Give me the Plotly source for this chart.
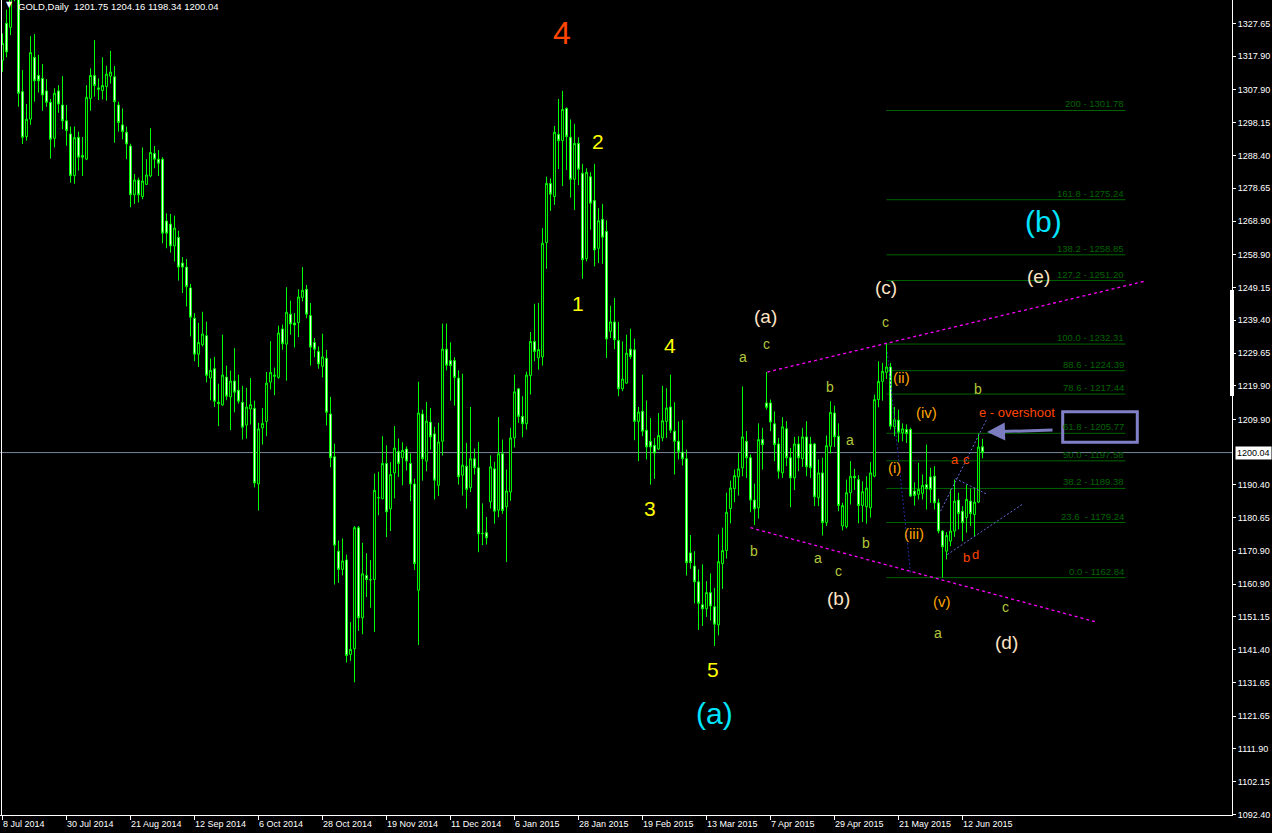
import plotly.graph_objects as go

# ---------------- data ----------------
opens = [1316.7, 1327.7, 1326.5, 1338.0, 1337.0, 1307.4, 1294.0, 1299.2, 1317.6, 1312.2,
         1311.3, 1307.6, 1304.2, 1293.5, 1307.6, 1303.4, 1298.7, 1294.8, 1282.4, 1293.8,
         1288.4, 1287.3, 1305.3, 1312.2, 1308.5, 1307.7, 1308.9, 1312.0, 1311.8, 1303.4,
         1297.5, 1295.3, 1291.2, 1276.7, 1281.1, 1276.2, 1279.8, 1282.3, 1289.0, 1287.3,
         1287.3, 1268.9, 1268.0, 1261.5, 1264.0, 1256.4, 1255.2, 1249.0, 1240.0, 1229.3,
         1232.1, 1234.8, 1222.2, 1225.0, 1215.0, 1214.2, 1222.5, 1216.6, 1221.3, 1218.6,
         1215.0, 1208.2, 1213.0, 1213.2, 1190.7, 1207.4, 1209.3, 1221.0, 1222.7, 1222.4,
         1236.8, 1232.3, 1241.2, 1238.6, 1238.7, 1246.2, 1248.6, 1240.8, 1232.8, 1230.1,
         1225.7, 1228.1, 1211.5, 1198.8, 1170.7, 1165.3, 1168.1, 1140.0, 1141.7, 1177.7,
         1150.9, 1163.5, 1162.2, 1162.3, 1186.6, 1186.3, 1196.8, 1183.3, 1194.0, 1200.4,
         1198.5, 1201.1, 1196.8, 1190.7, 1159.1, 1211.5, 1197.5, 1209.1, 1205.6, 1190.3,
         1203.4, 1230.8, 1227.4, 1227.4, 1222.2, 1193.3, 1196.0, 1189.6, 1198.2, 1195.5,
         1175.9, 1176.2, 1185.4, 1195.2, 1182.9, 1199.7, 1183.9, 1188.3, 1204.4, 1219.0,
         1210.8, 1208.6, 1222.9, 1233.1, 1228.2, 1228.5, 1262.5, 1280.1, 1276.2, 1294.7,
         1292.8, 1302.4, 1293.8, 1281.3, 1292.0, 1283.1, 1257.7, 1282.1, 1275.0, 1260.8,
         1269.4, 1265.8, 1236.1, 1238.9, 1233.4, 1219.0, 1220.7, 1230.8, 1230.6, 1209.3,
         1212.3, 1206.7, 1203.4, 1202.2, 1201.1, 1204.4, 1209.3, 1213.6, 1206.4, 1203.4,
         1200.2, 1198.2, 1170.2, 1166.3, 1161.6, 1154.8, 1153.6, 1158.4, 1154.2, 1148.8,
         1167.0, 1170.9, 1183.4, 1189.3, 1192.8, 1195.5, 1203.4, 1198.5, 1185.9, 1183.6,
         1203.9, 1214.8, 1214.8, 1208.6, 1202.6, 1194.0, 1207.1, 1198.5, 1192.5, 1202.6,
         1198.2, 1204.7, 1202.6, 1202.6, 1186.6, 1194.0, 1179.2, 1201.9, 1211.8, 1204.9,
         1178.2, 1178.0, 1188.1, 1193.0, 1192.0, 1184.3, 1183.9, 1183.6, 1193.0, 1215.8,
         1221.2, 1223.9, 1225.5, 1207.7, 1209.7, 1205.9, 1206.9, 1206.9, 1188.6, 1187.6,
         1187.9, 1190.5, 1192.8, 1193.0, 1185.1, 1176.7, 1170.7, 1173.7, 1176.7, 1185.9,
         1182.6, 1180.7, 1185.6, 1181.6, 1185.3, 1201.75]
highs = [1324.7, 1331.8, 1345.0, 1345.0, 1340.0, 1313.8, 1303.7, 1323.9, 1324.5, 1318.3,
         1315.6, 1311.1, 1305.2, 1308.4, 1309.3, 1312.0, 1303.4, 1297.0, 1297.0, 1295.5,
         1293.9, 1309.3, 1314.3, 1322.7, 1311.3, 1317.6, 1315.1, 1319.5, 1315.0, 1304.4,
         1302.4, 1297.0, 1291.9, 1282.9, 1281.8, 1290.8, 1287.3, 1296.5, 1291.2, 1290.0,
         1287.9, 1271.2, 1271.0, 1270.5, 1266.0, 1258.2, 1257.6, 1250.2, 1241.5, 1238.6,
         1241.9, 1239.0, 1228.0, 1228.5, 1220.5, 1235.1, 1225.9, 1224.4, 1231.1, 1223.2,
         1219.9, 1219.3, 1222.2, 1215.5, 1208.9, 1213.3, 1224.0, 1233.2, 1225.3, 1237.8,
         1238.1, 1249.2, 1245.2, 1241.5, 1248.6, 1255.2, 1249.9, 1244.5, 1234.1, 1231.6,
         1235.4, 1230.6, 1216.6, 1202.7, 1173.9, 1174.5, 1169.7, 1149.6, 1178.2, 1178.2,
         1173.2, 1170.1, 1168.0, 1193.8, 1194.3, 1204.9, 1202.2, 1197.2, 1207.9, 1204.2,
         1203.1, 1201.9, 1199.8, 1192.3, 1221.1, 1212.8, 1215.1, 1213.3, 1207.7, 1208.9,
         1238.4, 1238.4, 1232.8, 1228.4, 1224.5, 1223.5, 1202.9, 1213.6, 1201.2, 1203.2,
         1184.9, 1180.9, 1199.2, 1197.3, 1210.6, 1203.9, 1195.0, 1207.4, 1223.2, 1219.2,
         1216.8, 1224.1, 1235.9, 1244.3, 1244.5, 1266.8, 1282.1, 1281.6, 1297.2, 1305.2,
         1307.6, 1302.7, 1299.1, 1297.8, 1293.8, 1285.9, 1284.6, 1283.4, 1285.9, 1272.7,
         1274.0, 1269.1, 1243.7, 1246.0, 1238.9, 1233.1, 1235.1, 1236.9, 1233.9, 1213.6,
         1223.2, 1215.5, 1210.3, 1204.4, 1211.8, 1219.9, 1219.2, 1223.2, 1215.0, 1209.3,
         1209.7, 1200.9, 1175.5, 1170.7, 1165.3, 1166.8, 1161.8, 1164.1, 1159.8, 1175.7,
         1177.7, 1188.1, 1191.7, 1195.0, 1199.9, 1219.7, 1206.4, 1199.5, 1190.8, 1208.7,
         1207.4, 1224.0, 1215.8, 1212.3, 1204.4, 1210.6, 1209.4, 1201.4, 1204.7, 1204.9,
         1207.4, 1209.4, 1204.7, 1202.9, 1198.0, 1198.5, 1205.1, 1215.3, 1214.0, 1208.7,
         1185.1, 1192.0, 1197.5, 1195.2, 1193.3, 1191.5, 1193.0, 1197.2, 1217.3, 1227.2,
         1226.7, 1232.31, 1226.7, 1213.6, 1212.8, 1208.7, 1208.4, 1207.4, 1191.2, 1197.0,
         1193.5, 1202.4, 1195.5, 1196.0, 1186.3, 1177.0, 1176.4, 1189.1, 1192.0, 1188.1,
         1184.1, 1190.5, 1189.3, 1189.6, 1205.7, 1204.16]
lows = [1313.3, 1317.6, 1324.2, 1334.3, 1302.9, 1291.8, 1292.8, 1297.5, 1304.4, 1307.1,
        1301.7, 1302.9, 1287.5, 1290.8, 1301.1, 1296.2, 1291.3, 1280.3, 1280.0, 1283.9,
        1282.3, 1287.0, 1301.7, 1305.9, 1304.9, 1305.1, 1304.7, 1309.8, 1292.2, 1295.5,
        1293.2, 1287.3, 1273.0, 1274.0, 1274.4, 1275.4, 1279.6, 1281.9, 1284.6, 1282.3,
        1262.3, 1260.8, 1259.5, 1256.9, 1251.2, 1247.5, 1243.5, 1234.6, 1227.2, 1225.5,
        1231.6, 1220.9, 1215.6, 1213.6, 1207.9, 1214.0, 1215.6, 1206.7, 1212.0, 1214.6,
        1203.9, 1204.2, 1208.4, 1189.7, 1182.8, 1202.4, 1204.9, 1218.8, 1217.1, 1222.0,
        1230.6, 1221.4, 1235.1, 1231.3, 1234.4, 1245.0, 1240.0, 1225.9, 1228.4, 1225.0,
        1222.4, 1208.1, 1195.7, 1160.8, 1161.3, 1163.5, 1137.6, 1138.1, 1131.7, 1147.0,
        1146.0, 1157.1, 1153.9, 1146.7, 1181.4, 1186.2, 1174.9, 1176.7, 1186.4, 1192.8,
        1190.3, 1194.7, 1185.6, 1165.1, 1142.8, 1191.7, 1194.5, 1200.9, 1186.1, 1187.1,
        1199.2, 1224.5, 1215.5, 1214.0, 1190.5, 1187.3, 1183.4, 1188.3, 1193.5, 1170.4,
        1172.5, 1172.7, 1183.4, 1178.9, 1180.8, 1181.8, 1167.5, 1185.7, 1201.6, 1208.9,
        1204.6, 1206.9, 1217.3, 1227.2, 1224.7, 1225.9, 1254.7, 1271.9, 1273.7, 1284.4,
        1279.3, 1284.1, 1275.9, 1272.2, 1279.6, 1251.7, 1256.9, 1266.3, 1255.4, 1256.4,
        1256.2, 1228.2, 1234.1, 1230.8, 1216.8, 1218.3, 1220.5, 1227.9, 1203.7, 1197.5,
        1204.9, 1198.0, 1190.5, 1192.2, 1200.8, 1203.4, 1204.4, 1205.9, 1193.5, 1198.0,
        1196.2, 1163.5, 1165.5, 1155.2, 1147.3, 1148.5, 1151.2, 1150.1, 1142.5, 1145.7,
        1159.5, 1168.5, 1179.0, 1185.3, 1187.3, 1193.0, 1192.5, 1182.3, 1178.5, 1180.4,
        1195.0, 1212.8, 1206.4, 1197.5, 1192.3, 1192.5, 1196.0, 1183.8, 1188.9, 1194.5,
        1195.8, 1193.0, 1192.5, 1184.1, 1184.1, 1175.4, 1178.2, 1199.8, 1201.7, 1182.6,
        1176.9, 1177.5, 1184.6, 1188.9, 1179.0, 1179.4, 1178.9, 1180.7, 1192.7, 1213.5,
        1215.5, 1221.9, 1206.9, 1204.9, 1203.1, 1203.4, 1202.9, 1186.9, 1184.3, 1186.1,
        1186.1, 1183.1, 1185.1, 1183.1, 1176.0, 1162.84, 1168.3, 1172.2, 1175.0, 1177.2,
        1173.7, 1176.2, 1178.2, 1175.2, 1185.0, 1198.34]
closes = [1321.7, 1319.2, 1338.0, 1337.0, 1306.9, 1293.8, 1299.2, 1319.0, 1310.6, 1310.6,
          1306.4, 1304.2, 1293.2, 1306.9, 1303.7, 1298.7, 1295.8, 1282.4, 1293.7, 1287.9,
          1287.9, 1305.7, 1312.2, 1309.2, 1308.1, 1309.2, 1312.6, 1313.2, 1304.4, 1298.2,
          1295.5, 1291.8, 1276.7, 1281.1, 1276.7, 1280.8, 1282.6, 1289.3, 1287.3, 1286.1,
          1265.3, 1265.3, 1261.5, 1266.8, 1255.2, 1255.2, 1249.4, 1240.3, 1229.3, 1232.8,
          1235.3, 1223.0, 1224.5, 1215.3, 1214.6, 1223.1, 1216.8, 1221.3, 1218.0, 1215.3,
          1207.6, 1213.6, 1214.3, 1191.0, 1207.1, 1208.7, 1220.7, 1223.9, 1223.1, 1235.6,
          1232.4, 1241.8, 1238.3, 1238.0, 1246.3, 1248.3, 1241.2, 1231.4, 1230.8, 1226.4,
          1228.5, 1212.0, 1198.5, 1172.5, 1165.3, 1167.8, 1139.7, 1141.5, 1177.7, 1150.9,
          1164.0, 1162.3, 1162.2, 1188.8, 1186.6, 1196.8, 1182.4, 1193.5, 1201.4, 1196.8,
          1200.7, 1197.5, 1190.7, 1167.0, 1211.8, 1198.2, 1209.4, 1204.7, 1191.8, 1203.2,
          1230.8, 1226.0, 1225.9, 1222.4, 1192.8, 1196.3, 1189.1, 1198.2, 1195.5, 1175.9,
          1176.0, 1174.7, 1195.8, 1182.6, 1199.7, 1182.8, 1188.6, 1204.4, 1218.1, 1210.8,
          1208.6, 1223.1, 1233.1, 1230.1, 1230.7, 1262.3, 1280.1, 1276.9, 1295.3, 1292.8,
          1302.1, 1294.0, 1281.3, 1292.0, 1284.3, 1257.4, 1283.4, 1274.2, 1260.3, 1269.0,
          1264.1, 1233.8, 1238.9, 1233.6, 1219.0, 1221.9, 1229.6, 1228.6, 1209.3, 1212.1,
          1206.4, 1201.7, 1201.7, 1199.9, 1205.1, 1209.5, 1213.3, 1206.7, 1203.4, 1200.4,
          1198.2, 1167.3, 1167.3, 1161.6, 1155.2, 1153.6, 1158.4, 1154.4, 1149.0, 1167.6,
          1170.9, 1182.3, 1189.5, 1193.2, 1195.2, 1204.7, 1198.5, 1185.9, 1183.3, 1203.9,
          1202.4, 1213.5, 1209.1, 1202.4, 1194.5, 1207.7, 1198.5, 1192.5, 1202.6, 1198.5,
          1204.7, 1195.8, 1195.5, 1186.9, 1194.0, 1179.2, 1202.1, 1212.0, 1204.7, 1184.3,
          1184.3, 1188.1, 1193.0, 1192.5, 1184.3, 1188.4, 1189.5, 1194.0, 1215.8, 1221.2,
          1224.2, 1225.5, 1207.9, 1209.8, 1206.1, 1207.1, 1205.7, 1187.1, 1187.3, 1189.1,
          1190.3, 1189.3, 1189.1, 1185.1, 1176.7, 1172.0, 1175.4, 1176.7, 1185.6, 1181.9,
          1179.2, 1186.1, 1181.9, 1185.3, 1201.7, 1200.04]

date_tick_bars = [0, 16, 32, 48, 64, 80, 96, 112, 128, 144, 160, 176, 192, 208, 224, 240]
date_tick_labels = ["8 Jul 2014", "30 Jul 2014", "21 Aug 2014", "12 Sep 2014", "6 Oct 2014",
                    "28 Oct 2014", "19 Nov 2014", "11 Dec 2014", "6 Jan 2015", "28 Jan 2015",
                    "19 Feb 2015", "13 Mar 2015", "7 Apr 2015", "29 Apr 2015", "21 May 2015",
                    "12 Jun 2015"]
price_ticks = [1327.65, 1317.90, 1307.90, 1298.15, 1288.40, 1278.65, 1268.90, 1258.90,
               1249.15, 1239.40, 1229.65, 1219.90, 1209.90, 1190.40, 1180.65, 1170.90,
               1160.90, 1151.15, 1141.40, 1131.65, 1121.65, 1111.90, 1102.15, 1092.40]
last_price = 1200.04
header_values = [1201.75, 1204.16, 1198.34, 1200.04]

fib_levels = [200.0, 161.8, 138.2, 127.2, 100.0, 88.6, 78.6, 61.8, 50.0, 38.2, 23.6, 0.0]
fib_prices = [1301.78, 1275.24, 1258.85, 1251.20, 1232.31, 1224.39, 1217.44, 1205.77,
              1197.58, 1189.38, 1179.24, 1162.84]
fib_bar_start, fib_bar_end = 221, 280.75

# trend lines: (bar, price) anchor pairs
magenta_lines = [((191.2, 1224.0), (285.9, 1251.1)), ((187.0, 1177.7), (273.25, 1149.7))]
navy_lines = [((221.2, 1230.0), (227.0, 1164.3))]
slate_lines = [((234.5, 1182.6), (246.2, 1210.3)), ((238.25, 1192.3), (246.2, 1187.6)),
               ((236.2, 1169.7), (254.9, 1184.6))]

# ---------------- layout constants ----------------
W, H = 1272, 833
PW, PH = 1232, 815            # plot area size in px
X_RANGE = [-0.625, 307.375]   # bar centres fall on pixel centres
Y_RANGE = [1092.25, 1334.64]
FONT = "Liberation Sans, Arial, sans-serif"

RED = "#FF4500"; YEL = "#FFFF00"; CYAN = "#00E5FF"; BEIGE = "#FFE4C4"
YG = "#B4C83C"; ORG = "#FFA500"; FIBG = "#006400"


def px(x, y):
    return x / PW, 1 - y / PH


idx = list(range(len(opens)))

fig = go.Figure()
fig.add_trace(go.Candlestick(
    x=idx, open=opens, high=highs, low=lows, close=closes,
    increasing=dict(line=dict(color="#00FF00", width=1), fillcolor="#000000"),
    decreasing=dict(line=dict(color="#00FF00", width=1), fillcolor="#FFFFFF"),
    whiskerwidth=0, showlegend=False, hoverinfo="skip"))

shapes = []
shapes.append(dict(type="line", xref="paper", yref="y", x0=0, x1=1, y0=last_price, y1=last_price,
                   line=dict(color="#778899", width=1), layer="below"))
shapes.append(dict(type="line", xref="paper", yref="paper", x0=px(1.5, 0)[0], x1=px(1.5, 0)[0],
                   y0=0, y1=1, line=dict(color="#FFFFFF", width=1)))
for p in fib_prices:
    shapes.append(dict(type="line", xref="x", yref="y", x0=fib_bar_start, x1=fib_bar_end,
                       y0=p, y1=p, line=dict(color=FIBG, width=1), layer="below"))
for (a, b) in magenta_lines:
    shapes.append(dict(type="line", xref="x", yref="y", x0=a[0], y0=a[1], x1=b[0], y1=b[1],
                       line=dict(color="#FF00FF", width=1.3, dash="3px,3px")))
for (a, b) in navy_lines:
    shapes.append(dict(type="line", xref="x", yref="y", x0=a[0], y0=a[1], x1=b[0], y1=b[1],
                       line=dict(color="#28289A", width=1, dash="2px,2px")))
for (a, b) in slate_lines:
    shapes.append(dict(type="line", xref="x", yref="y", x0=a[0], y0=a[1], x1=b[0], y1=b[1],
                       line=dict(color="#6A6AD8", width=1, dash="2px,2px")))
x0, y0 = px(1062.7, 411.7); x1, y1 = px(1137.3, 442.3)
shapes.append(dict(type="rect", xref="paper", yref="paper", x0=x0, y0=y0, x1=x1, y1=y1,
                   line=dict(color="#8080C8", width=3)))
shapes.append(dict(type="rect", xref="paper", yref="paper", x0=px(1230, 0)[0], x1=px(1234, 0)[0],
                   y0=px(0, 396)[1], y1=px(0, 290)[1], fillcolor="#FFFFFF", line=dict(width=0)))

ann = []
for b, t in zip(date_tick_bars, date_tick_labels):
    ann.append(dict(x=b, y=0, xref="x", yref="paper", text=t, showarrow=False,
                    xanchor="left", yanchor="top", yshift=-2, xshift=-2,
                    font=dict(family=FONT, size=9, color="#FFFFFF")))
ann.append(dict(x=1, y=last_price, xref="paper", yref="y", text=f"{last_price:.2f}",
                showarrow=False, xanchor="left", yanchor="middle", xshift=3,
                bgcolor="#FFFFFF", borderpad=1,
                font=dict(family=FONT, size=9, color="#000000")))
hx, hy = px(4, 5)
ann.append(dict(x=hx, y=hy, xref="paper", yref="paper", text="▼", showarrow=False,
                xanchor="left", yanchor="middle", font=dict(family="DejaVu Sans", size=8, color="#FFFFFF")))
hx, hy = px(16, 7)
ann.append(dict(x=hx, y=hy, xref="paper", yref="paper",
                text="GOLD,Daily  " + " ".join(f"{v:.2f}" for v in header_values),
                showarrow=False, xanchor="left", yanchor="middle",
                font=dict(family=FONT, size=9.5, color="#FFFFFF")))
for lvl, p in zip(fib_levels, fib_prices):
    lv = "200" if lvl == 200 else f"{lvl:.1f}"
    sep = "  - " if lvl == 23.6 else " - "
    ann.append(dict(x=fib_bar_end, y=p, xref="x", yref="y", text=f"{lv}{sep}{p:.2f}",
                    showarrow=False, xanchor="right", yanchor="bottom", yshift=-1,
                    font=dict(family=FONT, size=9.5, color=FIBG)))

wave_labels = [
    ("4", 562, 33, RED, 32), ("2", 598, 141, YEL, 21), ("1", 578, 303, YEL, 21),
    ("4", 670, 345, YEL, 21), ("3", 650, 509, YEL, 21), ("5", 713, 669, YEL, 21),
    ("(a)", 714, 713, CYAN, 30), ("(b)", 1043, 222, CYAN, 30),
    ("(a)", 765, 316, BEIGE, 19), ("(b)", 838, 598, BEIGE, 19), ("(c)", 886, 288, BEIGE, 19),
    ("(d)", 1006, 642, BEIGE, 19), ("(e)", 1038, 276, BEIGE, 19),
    ("a", 743, 357, YG, 14), ("c", 766, 344, YG, 14), ("b", 754, 551, YG, 14),
    ("b", 830, 387, YG, 14), ("a", 850, 440, YG, 14), ("a", 818, 558, YG, 14),
    ("c", 838, 571, YG, 14), ("b", 866, 543, YG, 14), ("c", 886, 322, YG, 14),
    ("a", 938, 633, YG, 14), ("c", 1005, 607, YG, 14), ("b", 978, 389, YG, 14),
    ("(ii)", 902, 377, ORG, 15), ("(iv)", 926, 412, ORG, 15), ("(i)", 894, 467, ORG, 15),
    ("(iii)", 914, 533, ORG, 15), ("(v)", 942, 601, ORG, 15),
    ("a", 955, 460, RED, 13), ("c", 966, 460, RED, 13), ("b", 966, 557, RED, 13),
    ("d", 975, 554, RED, 13),
]
for t, x, y, c, s in wave_labels:
    ax_, ay_ = px(x, y)
    ann.append(dict(x=ax_, y=ay_, xref="paper", yref="paper", text=t, showarrow=False,
                    xanchor="center", yanchor="middle",
                    font=dict(family=FONT, size=s, color=c)))
ex, ey = px(977, 413)
ann.append(dict(x=ex, y=ey, xref="paper", yref="paper", text="e - overshoot", showarrow=False,
                xanchor="left", yanchor="middle", font=dict(family=FONT, size=13, color=RED)))
tx, ty = px(987, 432)
ann.append(dict(x=tx, y=ty, xref="paper", yref="paper", text="", showarrow=True,
                ax=67, ay=-2, arrowhead=2, arrowsize=1.2, arrowwidth=3, arrowcolor="#7B7BC0"))

fig.update_layout(
    width=W, height=H, paper_bgcolor="#000000", plot_bgcolor="#000000",
    margin=dict(l=0, r=W - PW, t=0, b=H - PH, autoexpand=False),
    showlegend=False, boxgap=0.33, hovermode=False,
    shapes=shapes, annotations=ann,
    xaxis=dict(range=X_RANGE, rangeslider=dict(visible=False), showgrid=False, zeroline=False,
               showline=True, linecolor="#FFFFFF", linewidth=1, ticks="outside", ticklen=4,
               tickcolor="#FFFFFF", tickvals=date_tick_bars, showticklabels=False, fixedrange=True),
    yaxis=dict(range=Y_RANGE, side="right", showgrid=False, zeroline=False, showline=True,
               linecolor="#FFFFFF", linewidth=1, ticks="outside", ticklen=3, tickcolor="#FFFFFF",
               tickvals=price_ticks, ticktext=[f"{v:.2f}" for v in price_ticks],
               tickfont=dict(family=FONT, size=9, color="#FFFFFF"), fixedrange=True),
)

fig.write_html("out.html", config={"displayModeBar": False},
               post_script="document.body.style.margin='0px';document.body.style.background='#000';")
